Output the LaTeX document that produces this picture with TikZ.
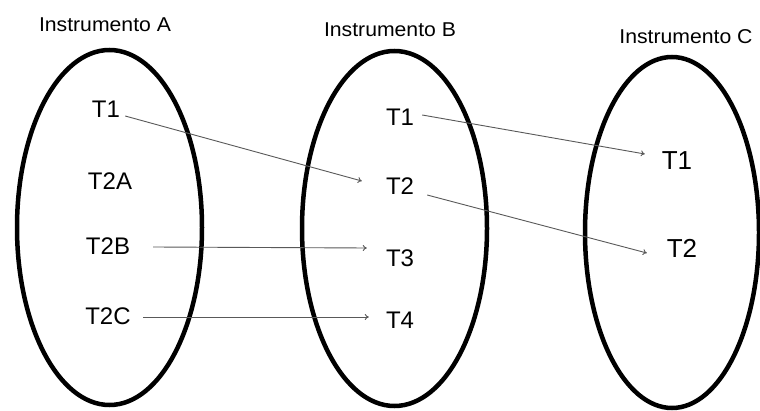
\documentclass[tikz,border=0pt]{standalone}
\usepackage{fontspec}
\setmainfont{Liberation Sans}
\usetikzlibrary{arrows.meta,shapes.geometric}
\begin{document}
\begin{tikzpicture}[x=1pt,y=-1pt,
  setbox/.style={draw=black,line width=4.5pt,ellipse,inner sep=0pt},
  lbl/.style={inner sep=0pt,font=\fontsize{24}{24}\selectfont},
  lblc/.style={inner sep=0pt,font=\fontsize{26}{26}\selectfont},
  ttl/.style={inner sep=0pt,font=\fontsize{20}{20}\selectfont},
  conn/.style={draw=black!65,line width=0.9pt,-{To[length=4pt,width=6pt]}}]
\fill[white] (0,0) rectangle (760,411);
\useasboundingbox (0,0) rectangle (760,411);
% sets
\node[setbox,minimum width=185pt,minimum height=355pt] (ea) at (109.5,227.5) {};
\node[setbox,minimum width=185pt,minimum height=355pt] (eb) at (394.5,228.5) {};
\node[setbox,minimum width=174pt,minimum height=351pt] (ec) at (672,232.5) {};
% titles
\node[ttl] (ta) at (105,24.5) {\scalebox{1.06}[1]{Instrumento A}};
\node[ttl] (tb) at (390,29.5) {\scalebox{1.06}[1]{Instrumento B}};
\node[ttl] (tc) at (686,36.5) {\scalebox{1.06}[1]{Instrumento C}};
% labels A
\node[lbl] (a1) at (106,109) {T1};
\node[lbl] (a2) at (110,181) {T2A};
\node[lbl] (a3) at (108,246) {T2B};
\node[lbl] (a4) at (108,316) {T2C};
% labels B
\node[lbl] (b1) at (400,117) {T1};
\node[lbl] (b2) at (400,186) {T2};
\node[lbl] (b3) at (400,258) {T3};
\node[lbl] (b4) at (400,320) {T4};
% labels C
\node[lblc] (c1) at (677,161) {T1};
\node[lblc] (c2) at (682,248) {T2};
% connectors
\draw[conn] ([xshift=5pt,yshift=-7pt]a1.east) -- ([xshift=-24pt,yshift=5pt]b2.west);
\draw[conn] ([xshift=8pt,yshift=2pt]b1.east) -- ([xshift=-16.8pt,yshift=7pt]c1.west);
\draw[conn] ([xshift=13pt,yshift=-9pt]b2.east) -- ([xshift=-19.8pt,yshift=-5pt]c2.west);
\draw[conn] ([xshift=23pt,yshift=-1pt]a3.east) -- ([xshift=-19pt,yshift=10pt]b3.west);
\draw[conn] ([xshift=12.3pt,yshift=-1pt]a4.east) -- ([xshift=-17pt,yshift=3pt]b4.west);
\end{tikzpicture}
\end{document}
